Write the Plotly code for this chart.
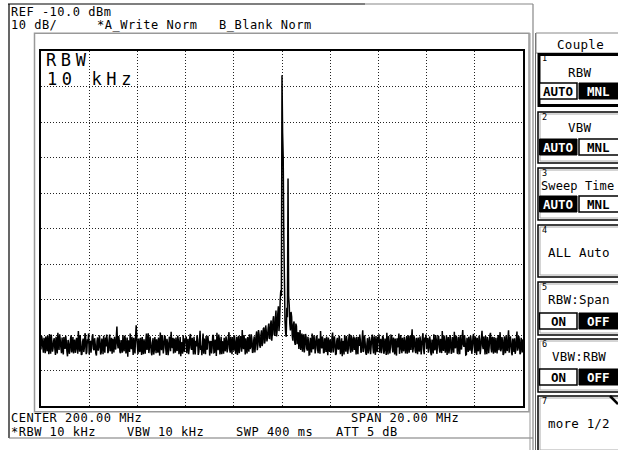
import numpy as np
import plotly.graph_objects as go

CENTER_MHZ = 200.0
SPAN_MHZ = 20.0
REF_DBM = -10.0
DB_PER_DIV = 10.0
N_DIV = 10

# trace A levels in dBm, read at the even sweep points (401 of 801), left to right
levels_even_a = [
    -94.1, -91.2, -95.0, -92.3, -90.4, -94.6, -93.0, -89.7, -95.3, -92.0, -93.8, -90.9, -95.6, -92.7, -89.4, -94.2, -91.5, -95.1, -93.3, -90.6,
    -93.9, -91.8, -96.0, -92.5, -94.4, -90.1, -93.6, -95.2, -91.3, -94.0, -92.2, -88.9, -94.7, -92.9, -95.4, -91.0, -93.5, -90.3, -94.8, -92.4,
    -95.5, -91.6, -93.1, -89.8, -94.3, -92.6, -95.8, -90.7, -93.4, -91.9, -94.9, -92.1, -90.2, -95.0, -93.2, -91.4, -94.5, -89.9, -93.7, -95.3,
    -92.0, -90.5, -94.1, -87.6, -93.8, -91.7, -95.1, -92.8, -90.0, -94.6, -91.1, -93.9, -96.1, -92.3, -89.6, -94.0, -92.7, -90.8, -95.2, -87.3,
    -93.3, -91.0, -94.8, -92.5, -90.6, -95.4, -93.0, -91.5, -94.2, -89.5, -93.6, -92.1, -95.7, -90.9, -94.4, -92.6, -91.2, -95.0, -93.1, -89.3,
]
levels_even_b = [
    -94.3, -91.8, -93.5, -90.4, -95.6, -92.2, -94.0, -91.3, -89.1, -93.7, -95.2, -92.9, -90.7, -94.5, -91.6, -93.4, -96.0, -92.0, -90.1, -94.8,
    -92.4, -95.1, -91.1, -93.8, -89.7, -94.2, -92.8, -90.5, -95.5, -93.2, -91.4, -94.7, -88.8, -93.0, -91.9, -95.3, -92.6, -90.3, -94.1, -92.3,
    -95.8, -91.7, -93.6, -90.0, -94.9, -92.5, -89.4, -94.3, -91.2, -93.9, -95.4, -92.1, -90.8, -94.6, -91.5, -93.3, -89.2, -95.0, -92.7, -90.6,
    -94.4, -91.9, -93.1, -95.6, -90.2, -93.7, -91.0, -88.6, -94.0, -92.4, -90.9, -95.2, -92.0, -89.8, -93.5, -91.3, -94.8, -90.4, -92.9, -89.0,
    -92.8, -89.9, -93.6, -88.7, -92.1, -87.9, -91.5, -89.2, -90.6, -86.8, -91.0, -85.9, -89.4, -84.7, -90.2, -83.1, -88.5, -81.9, -86.3, -77.4,
]
levels_even_c = [
    -16.8, -40.0, -73.8, -89.4, -82.3, -45.9, -81.6, -88.7, -84.9, -91.6, -86.2, -92.8, -87.5, -90.3, -93.9, -88.6, -92.0, -94.7, -89.8, -93.1,
    -90.6, -94.4, -91.9, -95.5, -92.3, -89.6, -94.0, -91.4, -93.6, -90.2, -95.1, -92.7, -88.9, -93.8, -91.2, -94.9, -92.0, -90.4, -95.7, -93.0,
    -91.3, -94.5, -89.3, -93.2, -92.1, -95.3, -90.8, -94.1, -91.7, -93.5, -96.0, -92.4, -90.0, -94.7, -91.6, -93.9, -89.7, -95.0, -92.6, -91.0,
    -94.2, -92.9, -90.5, -95.4, -93.1, -91.5, -94.6, -88.7, -93.4, -92.2, -95.6, -90.9, -94.3, -91.8, -93.0, -89.9, -95.2, -92.5, -90.3, -94.8,
    -92.0, -95.0, -91.1, -93.7, -90.6, -94.4, -92.8, -89.4, -95.5, -91.9, -93.3, -90.2, -94.9, -92.3, -91.0, -95.8, -93.5, -89.6, -94.1, -92.7,
]
levels_even_d = [
    -90.8, -94.6, -91.6, -93.0, -95.3, -90.1, -92.9, -94.2, -88.4, -93.6, -91.3, -95.1, -92.5, -90.7, -94.7, -91.8, -93.2, -89.5, -95.4, -92.1,
    -94.0, -90.9, -93.8, -91.5, -95.7, -92.6, -89.8, -94.3, -91.2, -93.4, -90.4, -95.0, -92.8, -88.9, -94.5, -91.7, -93.1, -95.6, -90.6, -93.9,
    -91.4, -94.8, -92.2, -89.1, -93.7, -91.0, -95.2, -92.4, -90.0, -94.1, -88.6, -93.3, -91.9, -95.5, -92.0, -90.5, -94.4, -91.6, -93.6, -89.7,
    -95.1, -92.3, -90.8, -94.6, -91.3, -93.5, -88.8, -94.0, -92.7, -90.3, -95.4, -91.8, -93.0, -89.4, -94.9, -92.1, -90.6, -95.0, -93.4, -91.1,
    -94.3, -89.2, -93.9, -91.5, -95.3, -92.6, -90.1, -94.5, -88.7, -93.1, -91.9, -95.7, -92.2, -90.9, -94.2, -89.0, -93.7, -91.4, -95.0, -92.5,
    -91.2,
]

# trace A levels in dBm at the odd sweep points (400 of 801), left to right
levels_odd_a = [
    -90.3, -93.4, -90.8, -95.1, -92.0, -90.2, -95.4, -92.6, -89.9, -94.7, -91.6, -93.9, -90.5, -95.2, -92.1, -89.8, -93.6, -90.7, -95.5, -92.9,
    -90.2, -94.6, -91.4, -95.3, -91.1, -94.9, -90.6, -92.0, -95.0, -90.8, -95.3, -92.4, -90.0, -95.6, -91.9, -94.8, -89.5, -95.4, -91.2, -89.6,
    -92.2, -95.0, -90.4, -93.9, -90.9, -95.2, -91.7, -94.4, -90.1, -95.5, -91.0, -95.4, -93.6, -90.7, -89.9, -95.1, -91.3, -94.6, -90.8, -91.1,
    -94.9, -93.2, -90.6, -92.4, -90.3, -94.8, -91.4, -95.0, -93.3, -90.2, -95.2, -90.7, -91.5, -94.8, -93.0, -90.5, -95.6, -93.3, -90.4, -90.9,
    -95.4, -93.7, -90.8, -95.6, -93.8, -91.2, -95.3, -89.6, -92.5, -95.1, -90.4, -94.9, -92.3, -95.5, -90.6, -95.1, -93.4, -90.7, -95.8, -92.6,
]
levels_odd_b = [
    -90.0, -95.2, -90.3, -93.8, -91.1, -95.7, -90.5, -94.6, -92.9, -90.8, -91.0, -95.0, -93.9, -90.2, -95.4, -90.6, -92.8, -95.3, -93.5, -90.9,
    -90.4, -92.3, -95.4, -90.6, -93.6, -90.8, -95.5, -93.4, -91.6, -90.1, -95.6, -91.5, -94.2, -95.7, -89.6, -91.0, -95.4, -93.8, -90.2, -91.6,
    -92.5, -95.2, -90.2, -95.0, -91.3, -95.9, -93.0, -89.9, -95.5, -90.5, -91.8, -95.3, -93.7, -90.4, -94.9, -90.7, -93.9, -90.5, -95.4, -92.9,
    -90.1, -95.3, -90.5, -92.4, -95.1, -90.3, -94.7, -92.9, -90.0, -95.5, -93.6, -90.6, -94.7, -93.9, -89.8, -95.0, -91.6, -94.9, -90.1, -94.3,
    -88.6, -92.9, -90.0, -93.1, -88.2, -92.4, -87.3, -91.8, -88.1, -90.9, -86.9, -91.6, -86.0, -89.8, -85.4, -90.4, -84.0, -88.9, -80.2, -79.0,
]
levels_odd_c = [
    -33.0, -62.0, -86.0, -90.5, -85.0, -79.0, -86.9, -83.5, -90.2, -87.0, -91.9, -86.8, -92.6, -89.2, -90.8, -94.2, -89.6, -91.3, -94.9, -89.7,
    -93.8, -90.5, -95.6, -90.8, -94.9, -93.3, -90.1, -95.2, -90.5, -94.0, -91.0, -95.3, -92.6, -90.4, -95.1, -90.9, -94.8, -93.6, -90.7, -94.8,
    -95.0, -90.6, -94.9, -90.4, -95.6, -91.5, -93.9, -90.2, -95.4, -90.9, -91.7, -95.5, -93.1, -90.3, -95.3, -90.6, -93.8, -90.1, -94.7, -90.4,
    -90.7, -95.5, -93.9, -90.6, -89.9, -95.0, -91.2, -94.8, -90.1, -95.0, -92.4, -95.2, -90.5, -95.4, -90.8, -93.6, -90.4, -95.6, -93.5, -90.5,
    -89.8, -92.4, -95.1, -90.2, -95.3, -91.0, -95.6, -93.2, -90.3, -95.2, -90.1, -93.5, -90.7, -95.5, -93.7, -90.9, -91.8, -95.3, -90.0, -95.1,
]
levels_odd_d = [
    -93.8, -90.5, -95.2, -90.3, -92.1, -95.0, -90.3, -90.9, -94.9, -90.2, -94.4, -90.8, -95.4, -93.6, -90.4, -95.5, -90.6, -94.1, -90.7, -89.9,
    -91.1, -95.0, -90.4, -95.1, -91.3, -95.2, -93.6, -90.0, -95.3, -90.3, -93.7, -91.1, -95.1, -93.5, -90.2, -95.0, -90.1, -92.4, -95.2, -90.0,
    -95.3, -90.6, -95.0, -93.4, -90.2, -95.1, -90.5, -95.4, -93.2, -90.7, -92.7, -90.1, -95.6, -90.8, -94.8, -93.9, -90.2, -95.3, -90.4, -93.0,
    -90.4, -95.6, -93.9, -90.2, -95.4, -90.7, -93.1, -90.4, -95.5, -93.6, -90.6, -95.1, -90.1, -93.8, -90.5, -95.3, -93.7, -90.8, -95.2, -90.0,
    -91.5, -94.6, -90.6, -95.6, -90.4, -95.1, -93.8, -90.9, -95.0, -90.4, -95.0, -91.0, -94.8, -95.3, -91.2, -94.4, -90.3, -95.4, -90.8, -94.9,
]

header_lines = ["REF -10.0 dBm", "10 dB/", "*A_Write Norm", "B_Blank Norm"]
footer_lines = ["CENTER 200.00 MHz", "SPAN 20.00 MHz", "*RBW 10 kHz", "VBW 10 kHz", "SWP 400 ms", "ATT 5 dB"]
overlay_lines = ["RBW", "10 kHz"]
softkey_title = "Couple"
softkey_labels = ["RBW", "VBW", "Sweep Time", "ALL Auto", "RBW:Span", "VBW:RBW", "more 1/2"]
softkey_buttons = [("AUTO", "MNL"), ("AUTO", "MNL"), ("AUTO", "MNL"), None, ("ON", "OFF"), ("ON", "OFF"), None]
softkey_active = [1, 0, 0, None, 1, 1, None]

# ---------------- figure ----------------
even = levels_even_a + levels_even_b + levels_even_c + levels_even_d
odd = levels_odd_a + levels_odd_b + levels_odd_c + levels_odd_d
levels = []
for e, o in zip(even, odd):
    levels += [e, o]
levels += even[len(odd):]

f_start = CENTER_MHZ - SPAN_MHZ / 2
f_stop = CENTER_MHZ + SPAN_MHZ / 2
freqs = np.linspace(f_start, f_stop, len(levels))

W, H = 618, 450
PL, PR, PT, PB = 41, 523, 51, 406  # plot area in pixels


def px(x):
    return (x - PL) / (PR - PL)


def py(y):
    return (PB - y) / (PB - PT)


MONO = "DejaVu Sans Mono"

fig = go.Figure()
fig.add_trace(go.Scatter(x=freqs, y=levels, mode="lines",
                         line=dict(color="black", width=1.5, simplify=False),
                         hoverinfo="skip", showlegend=False))

axis_common = dict(showticklabels=False, ticks="", showgrid=True,
                   gridcolor="#222", griddash="1px,2px", gridwidth=1,
                   zeroline=False, showline=True, mirror=True,
                   linecolor="black", linewidth=1.5)
fig.update_xaxes(range=[f_start, f_stop], dtick=SPAN_MHZ / N_DIV, tick0=f_start, **axis_common)
fig.update_yaxes(range=[REF_DBM - DB_PER_DIV * N_DIV, REF_DBM], dtick=DB_PER_DIV,
                 tick0=REF_DBM, **axis_common)

shapes = []
annotations = []


def line(x0, y0, x1, y1, color="black", width=1):
    shapes.append(dict(type="line", xref="paper", yref="paper", layer="below",
                       x0=px(x0), y0=py(y0), x1=px(x1), y1=py(y1),
                       line=dict(color=color, width=width)))


def rect(x0, y0, x1, y1, color="black", width=1, fill=None):
    shapes.append(dict(type="rect", xref="paper", yref="paper",
                       x0=px(x0), y0=py(y0), x1=px(x1), y1=py(y1),
                       line=dict(color=color, width=width),
                       fillcolor=fill if fill else "rgba(0,0,0,0)"))


def text(t, x, y, size=12, color="black", anchor="left", family=MONO, bold=False, spacing=0.5):
    if spacing:
        t = '<span style="letter-spacing:%spx">%s</span>' % (spacing, t)
    if bold:
        t = "<b>" + t + "</b>"
    annotations.append(dict(text=t, xref="paper", yref="paper", x=px(x), y=py(y),
                            xanchor=anchor, yanchor="middle", showarrow=False,
                            font=dict(family=family, size=size, color=color),
                            borderpad=0))


# outer screen frame
line(8, 4, 365, 4, "black", 1.2)
line(365, 4, 533, 4, "#888", 1.2)
line(9, 4, 9, 438, "black", 1.2)
line(9, 438, 533, 438, "#777", 1.2)
line(533, 4, 533, 452, "#888", 1.2)
line(530, 33, 530, 452, "#999", 1)
line(535.5, 33, 535.5, 452, "#666", 1)
# inner gray frame around graticule
shapes.append(dict(type="rect", xref="paper", yref="paper", layer="below",
                   x0=px(34.5), y0=py(33.2), x1=px(529), y1=py(411.7),
                   line=dict(color="#999", width=1.5)))

# header / footer text
text(header_lines[0], 10, 12)
text(header_lines[1], 10, 25)
text(header_lines[2], 96, 25)
text(header_lines[3], 218, 25)
text(footer_lines[0], 10, 418)
text(footer_lines[1], 350, 418)
text(footer_lines[2], 10, 432)
text(footer_lines[3], 126, 432)
text(footer_lines[4], 235, 432)
text(footer_lines[5], 335, 432)

# RBW overlay inside graticule
text(overlay_lines[0], 44.5, 60, size=17, spacing=4.6)
text(overlay_lines[1], 45.5, 79, size=17, spacing=4.6)

# softkey panel
BX0, BX1 = 538, 626
rect(536, 33, BX1, 53, "#888", 1)
text(softkey_title, 580, 44, size=12.5, anchor="center", spacing=0.3)

boxes = [(53, 107, 72, (83, 99)), (112, 163, 127.5, (139, 155)), (168, 220, 185.5, (196, 212)),
         (225, 277, 252, None), (282, 335, 299.5, (313, 329)), (339, 392, 356, (369, 385)),
         (396, 452, 423, None)]
for i, (top, bot, ly, by) in enumerate(boxes):
    if i == 0:
        rect(BX0 + 1, top + 1.5, BX1, bot - 1.5, "black", 3)
    else:
        rect(BX0, top, BX1, bot, "black", 1.5)
        rect(BX0 + 2, top + 2, BX1, bot - 2, "#aaa", 1)
    text(str(i + 1), 540.5, top + 5, size=8.5, spacing=0)
    if i == 2:
        text(softkey_labels[i], 540, ly, size=12, anchor="left", spacing=0.1)
    else:
        text(softkey_labels[i], 579, ly, size=12.5, anchor="center", spacing=0.2)
    if softkey_buttons[i] is not None:
        b0, b1 = by
        for j, (lbl, (x0, x1, cx)) in enumerate(zip(softkey_buttons[i],
                                                     [(539.5, 577, 558), (579, BX1, 598.5)])):
            if softkey_active[i] == j:
                rect(x0, b0, x1, b1, "black", 1, fill="black")
                text(lbl, cx, (b0 + b1) / 2 + 0.5, size=12.5, color="white", anchor="center", bold=True, spacing=0)
            else:
                rect(x0, b0, x1, b1, "black", 1.5, fill="white")
                text(lbl, cx, (b0 + b1) / 2 + 0.5, size=12.5, color="black", anchor="center", bold=True, spacing=0)

# folded corner on the last softkey
line(610, 396, 618, 404, "black", 2.5)
shapes[-1]["layer"] = "above"

fig.update_layout(width=W, height=H, margin=dict(l=PL, r=W - PR, t=PT, b=H - PB),
                  paper_bgcolor="white", plot_bgcolor="white",
                  shapes=shapes, annotations=annotations, showlegend=False)

fig.write_html("out.html", config={"displayModeBar": False},
               post_script="document.body.style.margin='0';document.body.style.padding='0';")
